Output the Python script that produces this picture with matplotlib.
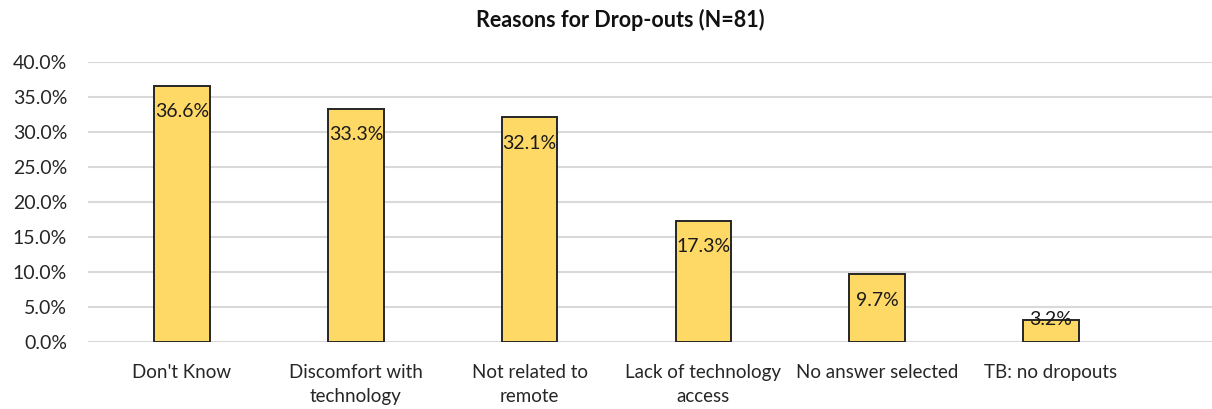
import matplotlib.pyplot as plt
from matplotlib.ticker import PercentFormatter

# Survey results: share of respondents per drop-out reason
reasons = ["Don't Know", "Discomfort with\ntechnology", "Not related to\nremote",
           "Lack of technology\naccess", "No answer selected", "TB: no dropouts"]
shares = [0.366, 0.333, 0.321, 0.173, 0.097, 0.032]
value_labels = ["36.6%", "33.3%", "32.1%", "17.3%", "9.7%", "3.2%"]

plt.rcParams['font.family'] = ['Lato', 'DejaVu Sans']

fig = plt.figure(figsize=(12.12, 4.09), dpi=100)
ax = fig.add_axes([0.0726, 0.1638, 0.9274, 0.6846])

x = range(len(reasons))
ax.bar(x, shares, width=0.32, color='#FFD966', edgecolor='#262626', linewidth=1.4, zorder=3)

# value labels sit just inside the top of each bar
for i, (v, lab) in enumerate(zip(shares, value_labels)):
    y = v - 0.037 if v > 0.06 else v
    ax.text(i, y, lab, ha='center', va='center', fontsize=14, color='#1a1a1a', zorder=4)

ax.set_ylim(0, 0.40)
ax.set_yticks([i * 0.05 for i in range(9)])
ax.yaxis.set_major_formatter(PercentFormatter(1.0, decimals=1))
ax.set_xlim(-0.541, 5.926)
ax.set_xticks(list(x))
ax.set_xticklabels(reasons, fontsize=13.5, color='#262626', linespacing=1.45)
ax.tick_params(axis='y', labelsize=14, labelcolor='#262626', length=0, pad=15)
ax.tick_params(axis='x', length=0, pad=16)

ax.grid(axis='y', color='#D9D9D9', linewidth=1.5, zorder=0)
for s in ax.spines.values():
    s.set_visible(False)

fig.text(0.512, 0.952, 'Reasons for Drop-outs (N=81)', ha='center', va='center',
         fontsize=15.5, fontweight='bold', color='#111111')

fig.savefig('out.png', dpi=100)
